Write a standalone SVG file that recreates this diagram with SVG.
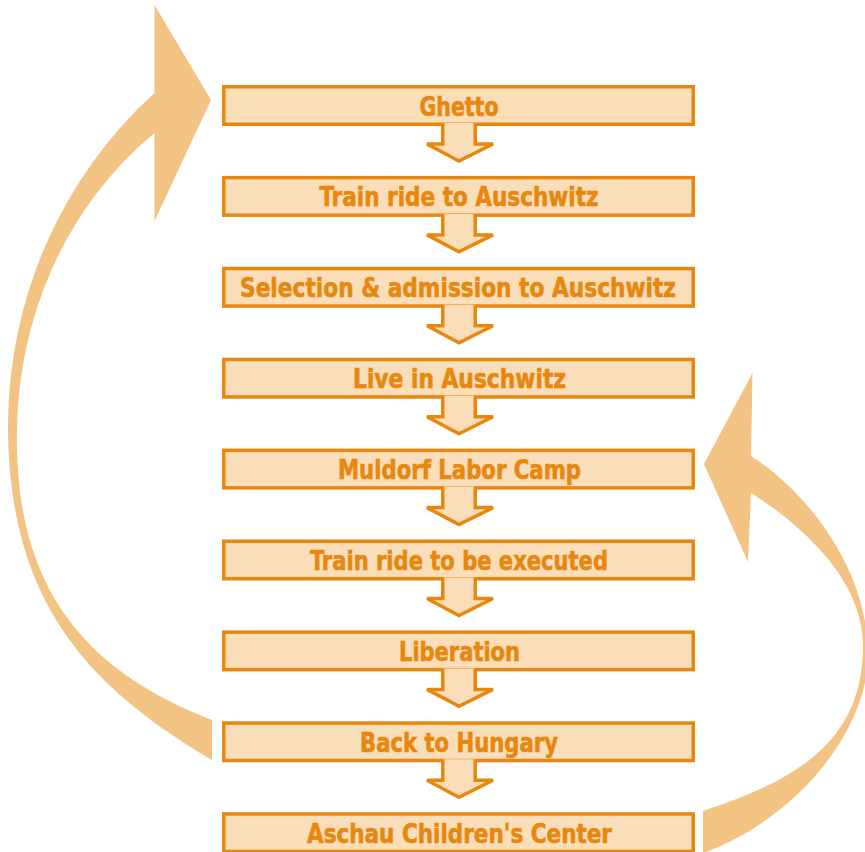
<svg xmlns="http://www.w3.org/2000/svg" width="865" height="852" viewBox="0 0 865 852">
<style>
.box{fill:#F9DEB9;stroke:#E8870E;stroke-width:3.5}
.lbl{font-family:"Liberation Sans Narrow","DejaVu Sans Condensed","Liberation Sans",sans-serif;font-stretch:condensed;font-weight:bold;font-size:27px;fill:#E8870E;stroke:#E8870E;stroke-width:0.6;text-anchor:middle}
.step{fill:#F9DEB9;stroke:#E8870E;stroke-width:3.5;stroke-linejoin:miter}
.loop{fill:#F2C383;stroke:none}
</style>
<rect width="865" height="852" fill="#fff"/>
<g id="connectors">
<path class="loop" d="M212,760 C91.6,688.6 8,605 8,425 A430,444 0 0 1 154.5,93 L154.5,5 L211,100 L154.5,221 L154.5,133 A343,377 0 0 0 17,440 C17,590 86.5,671.4 212,720 Z"/>
<path class="loop" d="M703,853 C797,819 868,730 868,655 C868,565 802,488 751,456 L752.5,373 L704,464 L748,562 L751,493 C793,519.5 863,575 863,645 C863,735 807.5,776.9 703,811 Z"/>
</g>
<g id="n1"><rect class="box" x="223.75" y="86.75" width="469.5" height="37.5"/><text class="lbl" x="459" y="115.5" textLength="79" lengthAdjust="spacingAndGlyphs">Ghetto</text></g>
<g id="n2"><rect class="box" x="223.75" y="177.65" width="469.5" height="37.5"/><text class="lbl" x="459" y="206.4" textLength="279" lengthAdjust="spacingAndGlyphs">Train ride to Auschwitz</text></g>
<g id="n3"><rect class="box" x="223.75" y="268.55" width="469.5" height="37.5"/><text class="lbl" x="458" y="297.3" textLength="436" lengthAdjust="spacingAndGlyphs">Selection &amp; admission to Auschwitz</text></g>
<g id="n4"><rect class="box" x="223.75" y="359.45" width="469.5" height="37.5"/><text class="lbl" x="459.5" y="388.2" textLength="213" lengthAdjust="spacingAndGlyphs">Live in Auschwitz</text></g>
<g id="n5"><rect class="box" x="223.75" y="450.35" width="469.5" height="37.5"/><text class="lbl" x="459.5" y="479.1" textLength="243" lengthAdjust="spacingAndGlyphs">Muldorf Labor Camp</text></g>
<g id="n6"><rect class="box" x="223.75" y="541.25" width="469.5" height="37.5"/><text class="lbl" x="459" y="570" textLength="298" lengthAdjust="spacingAndGlyphs">Train ride to be executed</text></g>
<g id="n7"><rect class="box" x="223.75" y="632.15" width="469.5" height="37.5"/><text class="lbl" x="459.5" y="660.9" textLength="121" lengthAdjust="spacingAndGlyphs">Liberation</text></g>
<g id="n8"><rect class="box" x="223.75" y="723.05" width="469.5" height="37.5"/><text class="lbl" x="459" y="751.8" textLength="198" lengthAdjust="spacingAndGlyphs">Back to Hungary</text></g>
<g id="n9"><rect class="box" x="223.75" y="813.95" width="469.5" height="37.5"/><text class="lbl" x="459.5" y="842.7" textLength="305" lengthAdjust="spacingAndGlyphs">Aschau Children's Center</text></g>
<g id="steps">
<path class="step" d="M442.75,123 V144 H427 L459,161 L493,144 H475.25 V123"/>
<path class="step" d="M442.75,213.9 V234.9 H427 L459,251.9 L493,234.9 H475.25 V213.9"/>
<path class="step" d="M442.75,304.8 V325.8 H427 L459,342.8 L493,325.8 H475.25 V304.8"/>
<path class="step" d="M442.75,395.7 V416.7 H427 L459,433.7 L493,416.7 H475.25 V395.7"/>
<path class="step" d="M442.75,486.6 V507.6 H427 L459,524.6 L493,507.6 H475.25 V486.6"/>
<path class="step" d="M442.75,577.5 V598.5 H427 L459,615.5 L493,598.5 H475.25 V577.5"/>
<path class="step" d="M442.75,668.4 V689.4 H427 L459,706.4 L493,689.4 H475.25 V668.4"/>
<path class="step" d="M442.75,759.3 V780.3 H427 L459,797.3 L493,780.3 H475.25 V759.3"/>
</g>
</svg>
